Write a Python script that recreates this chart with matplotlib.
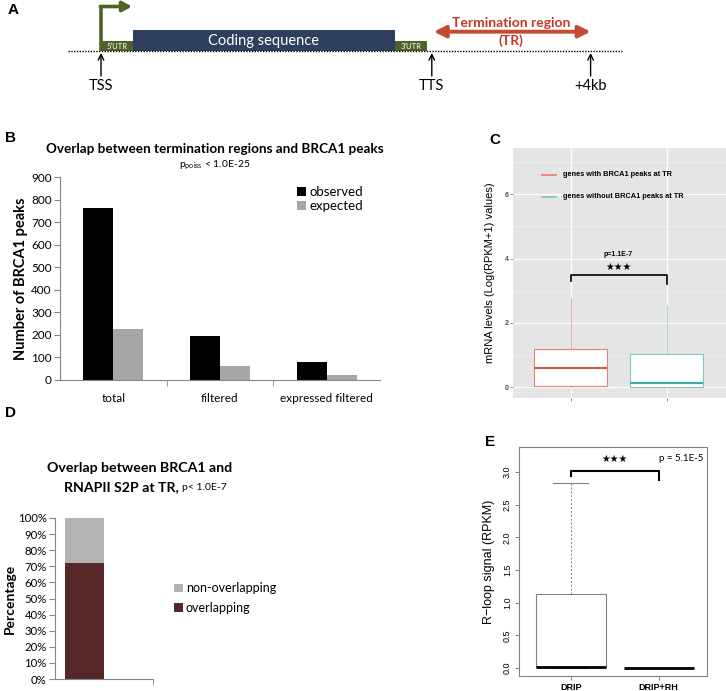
import matplotlib
matplotlib.use("Agg")
import matplotlib.pyplot as plt

W, H = 726, 691
fig = plt.figure(figsize=(W / 100, H / 100), dpi=100)
CAL = ['Lato', 'DejaVu Sans']
ARI = ['Liberation Sans', 'DejaVu Sans']


def axpx(l, t, r, b):
    return fig.add_axes([l / W, 1 - b / H, (r - l) / W, (b - t) / H])


# ---------------- data ----------------
# Panel A (schematic, kb relative to TSS)
feat_names = ["5'UTR", "Coding sequence", "3'UTR"]
feat_start = [0.0, 0.8, 7.35]
feat_end = [0.8, 7.35, 8.15]
landmarks = ["TSS", "TTS", "+4kb"]
landmark_kb = [0.0, 8.27, 12.24]

# Panel B
b_categories = ["total", "filtered", "expressed filtered"]
b_observed = [763, 197, 80]
b_expected = [224, 60, 22]
b_yticks = [0, 100, 200, 300, 400, 500, 600, 700, 800, 900]

# Panel C (box stats, log(RPKM+1))
c_labels = ["genes with BRCA1 peaks at TR", "genes without BRCA1 peaks at TR"]
c_q1 = [0.05, 0.02]
c_med = [0.6, 0.14]
c_q3 = [1.2, 1.04]
c_whislo = [0.0, 0.0]
c_whishi = [2.78, 2.56]
c_yticks = [0, 2, 4, 6]

# Panel D
d_overlapping = [72]
d_nonoverlapping = [28]
d_yticks = [0, 10, 20, 30, 40, 50, 60, 70, 80, 90, 100]

# Panel E
e_labels = ["DRIP", "DRIP+RH"]
e_q1 = [0.01, 0.0]
e_med = [0.02, 0.0]
e_q3 = [1.13, 0.0]
e_whislo = [0.0, 0.0]
e_whishi = [2.83, 0.0]
e_yticks = [0.0, 0.5, 1.0, 1.5, 2.0, 2.5, 3.0]

# ---------------- Panel A ----------------
pxkb = (593 - 433) / 4.0
x0 = 101
axA = axpx(0, 0, W, 100)
axA.set_xlim((0 - x0) / pxkb, (W - x0) / pxkb)
axA.set_ylim(100, 0)
axA.axis('off')
fig.text(8 / W, 1 - 10 / H, 'A', fontsize=11, fontweight='bold', family=ARI, va='center', ha='left')

axA.plot([(68 - x0) / pxkb, (622 - x0) / pxkb], [51, 51], color='black', lw=1.0, ls=(0, (1, 1)))
green = '#4f6228'
navy = '#2f3f5e'
for name, s, e in zip(feat_names, feat_start, feat_end):
    big = name == "Coding sequence"
    top = 30 if big else 40.7
    axA.add_patch(plt.Rectangle((s, top), e - s, 51 - top, color=navy if big else green, lw=0))
    axA.text((s + e) / 2, (top + 51) / 2 + 0.5, name, color='white', ha='center', va='center',
             family=CAL, fontsize=10.5 if big else 5.5)
# promoter arrow
axA.plot([0, 0], [51, 6.5], color=green, lw=2.6, solid_capstyle='butt')
axA.annotate('', xy=(31 / pxkb, 6.5), xytext=(-0.7 / pxkb, 6.5),
             arrowprops=dict(arrowstyle='-|>,head_length=0.55,head_width=0.3', color=green, lw=2.6,
                             shrinkA=0, shrinkB=0))
for name, k in zip(landmarks, landmark_kb):
    axA.annotate('', xy=(k, 53), xytext=(k, 76),
                 arrowprops=dict(arrowstyle='->,head_length=0.4,head_width=0.2', color='black', lw=1.0,
                                 shrinkA=0, shrinkB=0))
    axA.text(k, 85.5, name, ha='center', va='center', family=CAL, fontsize=10.5)
axA.annotate('', xy=(landmark_kb[2], 31.7), xytext=(landmark_kb[1] + 0.05, 31.7),
             arrowprops=dict(arrowstyle='<|-|>,head_length=0.7,head_width=0.35', color='#c44a30', lw=2.8,
                             shrinkA=0, shrinkB=0))
axA.text((landmark_kb[1] + landmark_kb[2]) / 2, 23, 'Termination region', color='#c0392b', ha='center',
         va='center', family=CAL, fontsize=10, fontweight='bold')
axA.text((landmark_kb[1] + landmark_kb[2]) / 2, 41, '(TR)', color='#c0392b', ha='center',
         va='center', family=CAL, fontsize=10, fontweight='bold')

# ---------------- Panel B ----------------
axB = axpx(60, 177, 380, 380)
fig.text(5 / W, 1 - 138 / H, 'B', fontsize=11, fontweight='bold', family=ARI, va='center')
xs = list(range(len(b_categories)))
bw = 0.28
axB.bar([x - bw / 2 for x in xs], b_observed, bw, color='black', label='observed')
axB.bar([x + bw / 2 for x in xs], b_expected, bw, color='#a6a6a6', label='expected')
axB.set_xlim(-0.5, 2.5)
axB.set_ylim(0, 900)
axB.set_yticks(b_yticks)
axB.set_xticks(xs)
axB.set_xticklabels(b_categories)
axB.set_xticks([0.5, 1.5], minor=True)
axB.tick_params(axis='x', which='major', length=0, pad=9)
axB.tick_params(axis='x', which='minor', length=4, direction='out', color='#868686')
axB.tick_params(axis='y', length=4, direction='out', color='#868686', pad=2)
for lab in axB.get_xticklabels() + axB.get_yticklabels():
    lab.set_family(CAL)
    lab.set_fontsize(8.5)
for s in ['top', 'right']:
    axB.spines[s].set_visible(False)
for s in ['left', 'bottom']:
    axB.spines[s].set_color('#868686')
axB.set_ylabel('Number of BRCA1 peaks', family=CAL, fontsize=10.5, fontweight='bold', labelpad=2)
leg = axB.legend(loc='upper left', bbox_to_anchor=((297 - 60) / 320, (177 - 186) / 203 + 1), frameon=False,
                 handlelength=0.7, handleheight=0.7, handletextpad=0.25, labelspacing=0.15,
                 prop=dict(family=CAL, size=9.5), borderaxespad=0, borderpad=0)
fig.text(215 / W, 1 - 149 / H, 'Overlap between termination regions and BRCA1 peaks', ha='center', va='center',
         family=CAL, fontsize=9.7, fontweight='bold')
fig.text(215 / W, 1 - 165 / H, r'p$_{\mathregular{poiss}}$ < 1.0E-25', ha='center', va='center',
         family=CAL, fontsize=7.5)

# ---------------- Panel C ----------------
axC = axpx(513, 148, W, 398)
fig.text(489 / W, 1 - 140 / H, 'C', fontsize=11, fontweight='bold', family=ARI, va='center')
axC.set_facecolor('#e5e5e5')
c_cols = ['#e8827a', '#7fc9c8']
c_meds = ['#d9534f', '#3fa9a6']
for i in range(2):
    st = [dict(med=c_med[i], q1=c_q1[i], q3=c_q3[i], whislo=c_whislo[i], whishi=c_whishi[i], fliers=[])]
    axC.bxp(st, positions=[i + 1], widths=0.76, showcaps=False, patch_artist=True, manage_ticks=False,
            boxprops=dict(facecolor='white', edgecolor=c_cols[i], lw=0.8),
            whiskerprops=dict(color=c_cols[i], lw=0.6, alpha=0.8),
            medianprops=dict(color=c_meds[i], lw=1.5))
axC.set_ylim(-0.33, 7.43)
axC.set_xlim(0.4, 2.62)
axC.set_yticks(c_yticks)
axC.set_yticks([1, 3, 5, 7], minor=True)
axC.set_xticks([1, 2])
axC.set_xticklabels(['', ''])
axC.grid(True, which='major', color='white', lw=0.9)
axC.grid(True, which='minor', axis='y', color='#f2f2f2', lw=0.5)
axC.set_axisbelow(True)
for s in axC.spines.values():
    s.set_visible(False)
axC.tick_params(axis='both', which='major', length=2, color='#7f7f7f', width=0.6, labelsize=5,
                labelcolor='#4d4d4d', pad=1)
axC.tick_params(axis='y', which='minor', length=0)
for lab in axC.get_yticklabels():
    lab.set_family(ARI)
    lab.set_fontweight('bold')
# legend
for j, (lab, col) in enumerate(zip(c_labels, c_cols)):
    ylv = 6.6 - j * 0.68
    axC.plot([0.7, 0.85], [ylv, ylv], color=col, lw=1.3)
    axC.text(0.92, ylv, lab, fontsize=5.3, fontweight='bold', family=ARI, va='center', ha='left')
# bracket
axC.plot([1, 1, 2, 2], [3.3, 3.48, 3.48, 3.2], color='black', lw=1.2)
axC.text(1.5, 3.73, '★★★', ha='center', va='center', fontsize=7, family=['DejaVu Sans'])
axC.text(1.5, 4.13, 'p=1.1E-7', ha='center', va='center', fontsize=5, fontweight='bold', family=ARI)
fig.text(490 / W, 1 - 273 / H, 'mRNA levels (Log(RPKM+1) values)', rotation=90, ha='center', va='center',
         fontsize=8, family=ARI)

# ---------------- Panel D ----------------
axD = axpx(55, 518, 153, 679)
fig.text(5 / W, 1 - 413 / H, 'D', fontsize=11, fontweight='bold', family=ARI, va='center')
axD.bar([0], d_overlapping, 0.4, color='#572727', label='overlapping')
axD.bar([0], d_nonoverlapping, 0.4, bottom=d_overlapping, color='#b3b3b3', label='non-overlapping')
axD.set_xlim(-0.3, 0.7)
axD.set_ylim(0, 100)
axD.set_yticks(d_yticks)
axD.set_yticklabels([f'{v}%' for v in d_yticks])
axD.set_xticks([])
axD.set_xticks([0.7], minor=True)
axD.tick_params(axis='x', which='minor', length=4, direction='out', color='#868686')
axD.tick_params(axis='y', length=4, direction='out', color='#868686', pad=2)
for lab in axD.get_yticklabels():
    lab.set_family(CAL)
    lab.set_fontsize(8.2)
for s in ['top', 'right']:
    axD.spines[s].set_visible(False)
for s in ['left', 'bottom']:
    axD.spines[s].set_color('#868686')
axD.set_ylabel('Percentage', family=CAL, fontsize=10, fontweight='bold', labelpad=1)
h, l = axD.get_legend_handles_labels()
axD.legend(h[::-1], l[::-1], loc='center left', bbox_to_anchor=((174 - 55) / 98, (679 - 598) / 161),
           frameon=False, handlelength=0.7, handleheight=0.7, handletextpad=0.25, labelspacing=0.6,
           prop=dict(family=CAL, size=9), borderaxespad=0, borderpad=0)
fig.text(140 / W, 1 - 468 / H, 'Overlap between BRCA1 and', ha='center', va='center', family=CAL,
         fontsize=10.2, fontweight='bold')
fig.text(179 / W, 1 - 487 / H, 'RNAPII S2P at TR,', ha='right', va='center', family=CAL,
         fontsize=10.2, fontweight='bold')
fig.text(182 / W, 1 - 487.5 / H, 'p< 1.0E-7', ha='left', va='center', family=CAL, fontsize=7.5)

# ---------------- Panel E ----------------
axE = axpx(519, 447, 707, 676)
fig.text(485 / W, 1 - 442 / H, 'E', fontsize=11, fontweight='bold', family=ARI, va='center')
for i in range(2):
    st = [dict(med=e_med[i], q1=e_q1[i], q3=e_q3[i], whislo=e_whislo[i], whishi=e_whishi[i], fliers=[])]
    axE.bxp(st, positions=[i + 1], widths=0.8, showcaps=e_whishi[i] > 0, patch_artist=True,
            manage_ticks=False,
            boxprops=dict(facecolor='white', edgecolor='#808080', lw=0.8),
            whiskerprops=dict(color='#808080', lw=0.7, ls=(0, (2, 2))),
            capprops=dict(color='#808080', lw=0.8), capwidths=0.4,
            medianprops=dict(color='black', lw=2.0))
axE.set_xlim(0.41, 2.55)
axE.set_ylim(-0.12, 3.38)
axE.set_yticks(e_yticks)
axE.set_yticklabels([f'{v:.1f}' for v in e_yticks], rotation=90, va='center')
axE.set_xticks([1, 2])
axE.set_xticklabels(e_labels, fontweight='bold')
axE.tick_params(axis='both', length=3, color='#808080', width=0.7, labelsize=6.5, pad=2)
for lab in axE.get_xticklabels() + axE.get_yticklabels():
    lab.set_family(ARI)
for s in axE.spines.values():
    s.set_color('#808080')
    s.set_linewidth(0.8)
axE.plot([1, 1, 2, 2], [2.93, 3.02, 3.02, 2.87], color='black', lw=1.5)
axE.text(1.5, 3.2, '★★★', ha='center', va='center', fontsize=7, family=['DejaVu Sans'])
axE.text(2.0, 3.2, 'p = 5.1E-5', ha='left', va='center', fontsize=7, family=CAL)
axE.set_ylabel('R−loop signal (RPKM)', family=ARI, fontsize=9, labelpad=6)

fig.savefig('out.png', dpi=100)
